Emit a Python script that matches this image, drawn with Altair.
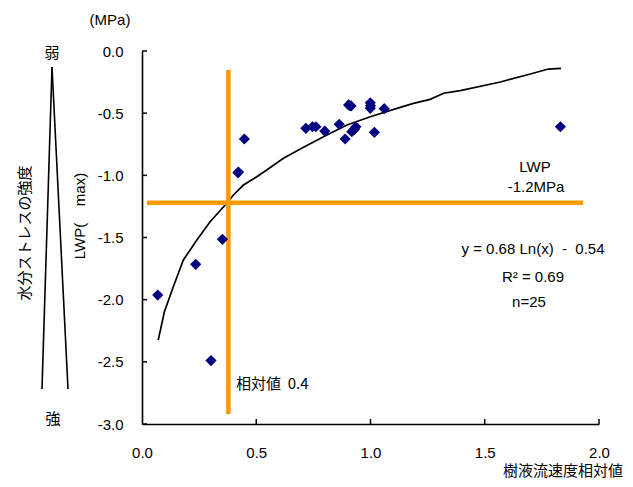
import altair as alt
import pandas as pd

# ---- data ----
pt_x = [0.069, 0.235, 0.302, 0.352, 0.422, 0.42, 0.448, 0.717, 0.746, 0.761, 0.80,
        0.863, 0.889, 0.904, 0.915, 0.91, 0.918, 0.936, 0.93, 0.999, 0.999, 1.0,
        1.017, 1.06, 1.831]
pt_y = [-1.963, -1.716, -2.49, -1.515, -0.973, -0.98, -0.708, -0.622, -0.609, -0.609, -0.644,
        -0.59, -0.708, -0.434, -0.442, -0.44, -0.649, -0.609, -0.63, -0.416, -0.461, -0.44,
        -0.654, -0.464, -0.609]

curve_x = [0.071, 0.098, 0.137, 0.181, 0.24, 0.298, 0.371, 0.40, 0.444, 0.502, 0.546,
           0.619, 0.707, 0.809, 0.897, 0.999, 1.116, 1.188, 1.261, 1.32, 1.393, 1.568,
           1.70, 1.778, 1.834]
curve_y = [-2.325, -2.097, -1.896, -1.681, -1.52, -1.373, -1.225, -1.158, -1.078, -1.011, -0.957,
           -0.863, -0.775, -0.676, -0.595, -0.529, -0.461, -0.421, -0.389, -0.34, -0.319, -0.249,
           -0.185, -0.145, -0.139]

h_line = {"x": [0.022], "x2": [1.93], "y": [-1.22]}
v_line = {"x": [0.378], "y": [-0.153], "y2": [-2.92]}

y_ticks = [0.0, -0.5, -1.0, -1.5, -2.0, -2.5, -3.0]
x_ticks = [0.5, 1.0, 1.5, 2.0]

W, H = 457, 373
LAT = "Liberation Sans"
JP = "Noto Sans CJK JP"
NB = "\u00a0"

xs = alt.Scale(domain=[0, 2], nice=False, zero=False)
ys = alt.Scale(domain=[-3, 0], nice=False, zero=False)

pts = pd.DataFrame({"x": pt_x, "y": pt_y})
crv = pd.DataFrame({"x": curve_x, "y": curve_y})

points = alt.Chart(pts).mark_point(shape="diamond", filled=True, size=125,
                                   color="#000080", opacity=1).encode(
    x=alt.X("x:Q", scale=xs,
            axis=alt.Axis(values=[0.0, 0.5, 1.0, 1.5, 2.0], format=".1f", title=None,
                          labelPadding=21, labelFlush=False)),
    y=alt.Y("y:Q", scale=ys,
            axis=alt.Axis(values=y_ticks, title=None, labelPadding=19,
                          labelExpr="datum.value == 0 ? '0.0' : '-' + format(abs(datum.value), '.1f')")),
)

curve = alt.Chart(crv).mark_line(color="black", strokeWidth=1.7).encode(
    x=alt.X("x:Q", scale=xs), y=alt.Y("y:Q", scale=ys), order="x:Q")

orange = "#FF9900"
hl = alt.Chart(pd.DataFrame(h_line)).mark_rule(color=orange, strokeWidth=4.5).encode(
    x=alt.X("x:Q", scale=xs), x2="x2:Q", y=alt.Y("y:Q", scale=ys))
vl = alt.Chart(pd.DataFrame(v_line)).mark_rule(color=orange, strokeWidth=4.5).encode(
    x=alt.X("x:Q", scale=xs), y=alt.Y("y:Q", scale=ys), y2="y2:Q")

ytk = alt.Chart(pd.DataFrame({"v": y_ticks})).mark_rule(color="black", strokeWidth=1.5).encode(
    y=alt.Y("v:Q", scale=ys), x=alt.value(0), x2=alt.value(5))
xtk = alt.Chart(pd.DataFrame({"v": x_ticks})).mark_rule(color="black", strokeWidth=1.5).encode(
    x=alt.X("v:Q", scale=xs), y=alt.value(H), y2=alt.value(H - 5))

one = pd.DataFrame({"a": [0]})


def txt(s, x, y, font=LAT, size=15, align="center", angle=0):
    kw = dict(font=font, fontSize=size, align=align, baseline="middle", color="black")
    if angle:
        kw["angle"] = angle
    return alt.Chart(one).mark_text(**kw).encode(
        x=alt.value(x), y=alt.value(y), text=alt.value(s))


def seg(x1, y1, x2, y2):
    return alt.Chart(one).mark_rule(color="black", strokeWidth=1.6).encode(
        x=alt.value(x1), y=alt.value(y1), x2=alt.value(x2), y2=alt.value(y2))


texts = [
    txt("(MPa)", -32, -31),
    txt("LWP(" + NB * 4 + "max)", -62, 165, angle=270),
    txt("水分ストレスの強度", -117, 182, font=JP, size=15, angle=270),
    txt("弱", -90, 2, font=JP, size=15),
    txt("強", -89, 368, font=JP, size=15),
    txt("LWP", 393, 116),
    txt("-1.2MPa", 394, 136),
    txt("y = 0.68 Ln(x)" + NB * 2 + "-" + NB * 2 + "0.54", 391, 198),
    txt("R² = 0.69", 391, 226),
    txt("n=25", 387, 251),
    txt("相対値" + NB * 2 + "0.4", 94, 333, font=JP, size=15, align="left"),
    txt("樹液流速度相対値", 481, 420, font=JP, size=15, align="right"),
]

tri = [seg(-90, 16, -100, 338), seg(-90, 16, -74, 338)]

chart = alt.layer(curve, hl, vl, points, ytk, xtk, *texts, *tri).properties(
    width=W, height=H,
    autosize=alt.AutoSizeParams(type="none"),
    padding={"left": 134, "top": 43, "right": 26, "bottom": 55},
).configure_view(stroke=None).configure_axis(
    grid=False, ticks=False, tickSize=0, domainColor="black", domainWidth=1.6,
    labelColor="black", labelFont=LAT, labelFontSize=15,
)

chart.save("out.html", embed_options={"renderer": "svg", "actions": False})
